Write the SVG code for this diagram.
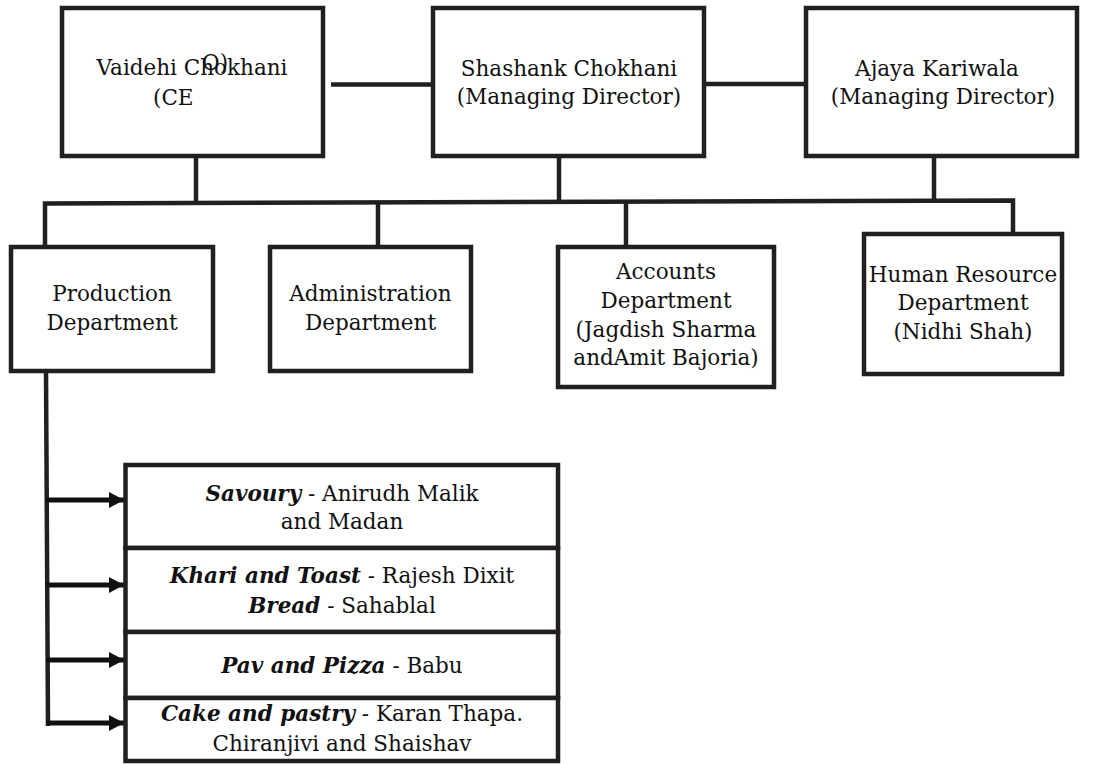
<svg xmlns="http://www.w3.org/2000/svg" width="1108" height="764" viewBox="0 0 1108 764">
  <style>
    .box { fill: #ffffff; stroke: #231f20; stroke-width: 4.5; }
    .ln { fill: none; stroke: #231f20; stroke-width: 4.5; }
    .arr { fill: none; stroke: #111111; stroke-width: 5; }
    .t { font-family: 'DejaVu Serif', serif; font-size: 21.5px; fill: #111111; }
    .c { text-anchor: middle; }
    .bi { font-weight: bold; font-style: italic; }
  </style>
  <defs>
    <marker id="ah" markerUnits="userSpaceOnUse" markerWidth="18" markerHeight="18" refX="15" refY="9" orient="auto">
      <path d="M0,1 L15,9 L0,17 Z" fill="#111111"/>
    </marker>
  </defs>
  <rect width="1108" height="764" fill="#ffffff"/>

  <g id="connectors">
    <line class="ln" x1="331" y1="84.5" x2="433" y2="84.5"/>
    <line class="ln" x1="704" y1="84" x2="806" y2="84"/>
    <line class="ln" x1="196" y1="156" x2="196" y2="203.5"/>
    <line class="ln" x1="559" y1="156" x2="559" y2="202.5"/>
    <line class="ln" x1="934" y1="156" x2="934" y2="201.5"/>
    <path class="ln" d="M45,247 L45,203.5 L1013,200.5 L1013,234"/>
    <line class="ln" x1="378" y1="203" x2="378" y2="247"/>
    <line class="ln" x1="626" y1="202" x2="626" y2="247"/>
    <line class="ln" x1="46" y1="371" x2="48" y2="726"/>
    <line class="arr" x1="46" y1="500" x2="124" y2="500" marker-end="url(#ah)"/>
    <line class="arr" x1="46" y1="585" x2="124" y2="585" marker-end="url(#ah)"/>
    <line class="arr" x1="46" y1="660" x2="124" y2="660" marker-end="url(#ah)"/>
    <line class="arr" x1="46" y1="723" x2="124" y2="723" marker-end="url(#ah)"/>
  </g>

  <g id="ceo" class="t">
    <rect class="box" x="62" y="8" width="261" height="148"/>
    <text class="c" x="192" y="75">Vaidehi Chokhani</text>
    <text x="153" y="105">(CE</text>
    <text x="202" y="70">O)</text>
  </g>
  <g id="md1" class="t">
    <rect class="box" x="433" y="8" width="271" height="148"/>
    <text class="c" x="569" y="76">Shashank Chokhani</text>
    <text class="c" x="569" y="104">(Managing Director)</text>
  </g>
  <g id="md2" class="t">
    <rect class="box" x="806" y="8" width="271" height="148"/>
    <text class="c" x="937" y="76">Ajaya Kariwala</text>
    <text class="c" x="943" y="104">(Managing Director)</text>
  </g>

  <g id="production" class="t">
    <rect class="box" x="11" y="247" width="202" height="124"/>
    <text class="c" x="112" y="301">Production</text>
    <text class="c" x="112" y="330">Department</text>
  </g>
  <g id="administration" class="t">
    <rect class="box" x="270" y="247" width="201" height="124"/>
    <text class="c" x="370.5" y="301">Administration</text>
    <text class="c" x="370.5" y="330">Department</text>
  </g>
  <g id="accounts" class="t">
    <rect class="box" x="558" y="247" width="216" height="140"/>
    <text class="c" x="666" y="279">Accounts</text>
    <text class="c" x="666" y="308">Department</text>
    <text class="c" x="666" y="337">(Jagdish Sharma</text>
    <text class="c" x="666" y="365">andAmit Bajoria)</text>
  </g>
  <g id="hr" class="t">
    <rect class="box" x="864" y="234" width="198" height="140"/>
    <text class="c" x="963" y="282">Human Resource</text>
    <text class="c" x="963" y="310">Department</text>
    <text class="c" x="963" y="339">(Nidhi Shah)</text>
  </g>

  <g id="savoury" class="t">
    <rect class="box" x="125.5" y="465" width="432.5" height="83"/>
    <text class="c" x="342" y="501"><tspan class="bi">Savoury</tspan> - Anirudh Malik</text>
    <text class="c" x="342" y="529">and Madan</text>
  </g>
  <g id="khari" class="t">
    <rect class="box" x="125.5" y="548" width="432.5" height="84"/>
    <text class="c" x="342" y="583"><tspan class="bi">Khari and Toast</tspan> - Rajesh Dixit</text>
    <text class="c" x="342" y="613"><tspan class="bi">Bread</tspan> - Sahablal</text>
  </g>
  <g id="pav" class="t">
    <rect class="box" x="125.5" y="632" width="432.5" height="66"/>
    <text class="c" x="342" y="673"><tspan class="bi">Pav and Pizza</tspan> - Babu</text>
  </g>
  <g id="cake" class="t">
    <rect class="box" x="125.5" y="698" width="432.5" height="63"/>
    <text class="c" x="342" y="721"><tspan class="bi">Cake and pastry</tspan> - Karan Thapa.</text>
    <text class="c" x="342" y="751">Chiranjivi and Shaishav</text>
  </g>
</svg>
